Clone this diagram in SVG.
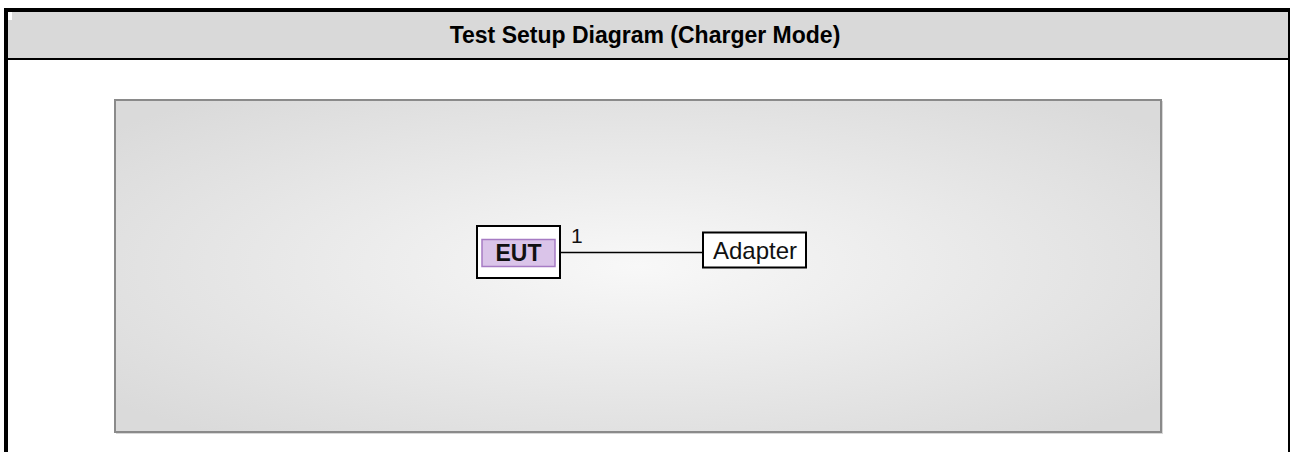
<svg xmlns="http://www.w3.org/2000/svg" width="1290" height="452" viewBox="0 0 1290 452">
  <style>
    .title { font-family: "Liberation Sans", Arial, sans-serif; font-weight: bold; font-size: 23px; fill: #000; }
    .box { fill: #ffffff; stroke: #000; stroke-width: 2; }
    .lbl { font-family: "Liberation Sans", Arial, sans-serif; font-size: 24px; fill: #111; }
    .bold { font-weight: bold; }
    .conn { stroke: #000; stroke-width: 1.5; fill: none; }
  </style>
  <defs>
    <radialGradient id="panelGrad" cx="0.5" cy="0.5" r="0.65">
      <stop offset="0" stop-color="#f8f8f8"/>
      <stop offset="1" stop-color="#dadada"/>
    </radialGradient>
  </defs>
  <rect x="0" y="0" width="1290" height="452" fill="#ffffff"/>
  <!-- header -->
  <rect x="8" y="12" width="1281" height="46" fill="#d9d9d9"/>
  <rect x="8" y="12" width="4" height="8" fill="#ffffff"/>
  <rect x="4" y="8" width="1286" height="4" fill="#000"/>
  <rect x="4" y="8" width="4" height="444" fill="#000"/>
  <rect x="1288" y="8" width="2" height="444" fill="#000"/>
  <rect x="8" y="58" width="1281" height="2" fill="#000"/>
  <text class="title" x="645" y="43" text-anchor="middle">Test Setup Diagram (Charger Mode)</text>
  <!-- panel -->
  <rect x="116" y="101" width="1047" height="333" fill="#bdbdbd" opacity="0.6"/>
  <rect x="115" y="100" width="1046" height="332" fill="url(#panelGrad)" stroke="#8a8a8a" stroke-width="2"/>
  <!-- connectors -->
  <g id="connectors">
    <line class="conn" x1="560" y1="252.5" x2="703" y2="252.5"/>
    <text class="lbl" x="571" y="243" style="font-size:21px">1</text>
  </g>
  <g id="node-eut">
    <rect class="box" x="477" y="226" width="83" height="52"/>
    <rect x="482" y="239.5" width="73" height="27" fill="#dac4e9" stroke="#a67bc4" stroke-width="1.5"/>
    <text class="lbl bold" x="518.5" y="261" text-anchor="middle" style="font-size:23px">EUT</text>
  </g>
  <g id="node-adapter">
    <rect class="box" x="703" y="232.5" width="103" height="35"/>
    <text class="lbl" x="755" y="258.5" text-anchor="middle">Adapter</text>
  </g>
</svg>
